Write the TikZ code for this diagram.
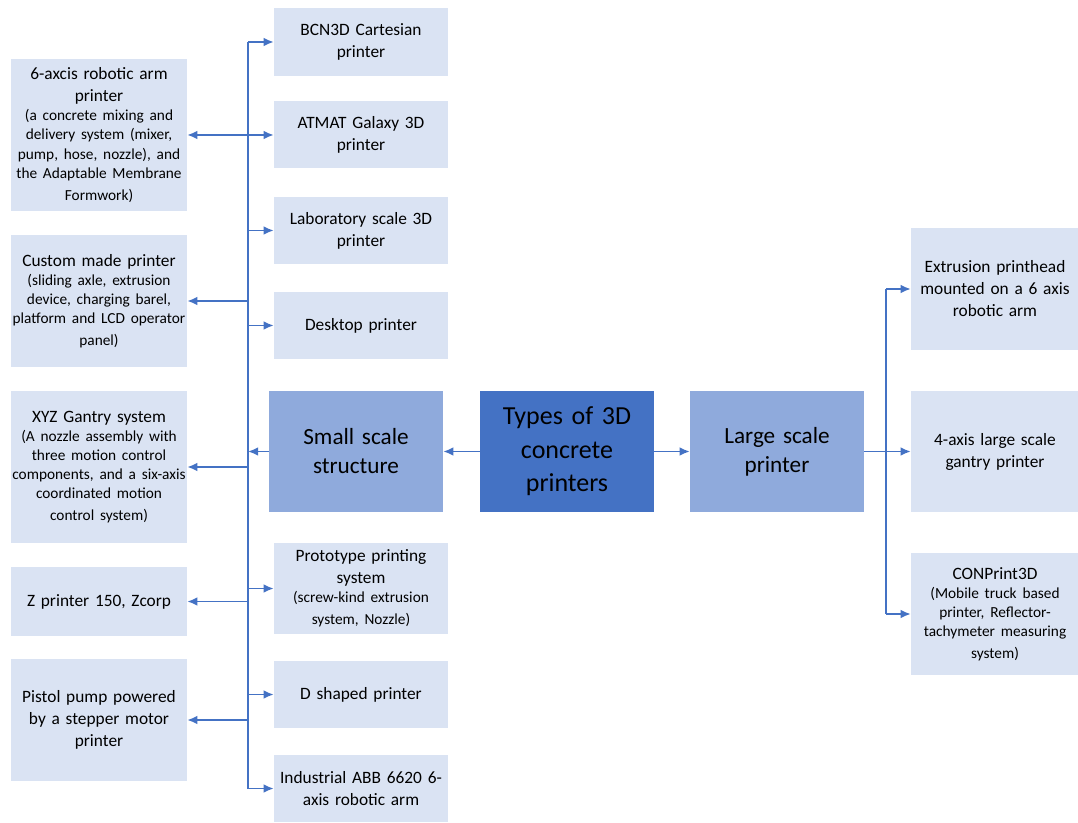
\documentclass[tikz,border=0pt]{standalone}
\usepackage{fontspec}
\setmainfont{Carlito}
\usetikzlibrary{arrows.meta, positioning}

\definecolor{leafblue}{HTML}{DAE3F3}
\definecolor{midblue}{HTML}{8FAADC}
\definecolor{coreblue}{HTML}{4472C4}
\newcommand{\leafsize}{\fontsize{13}{16.5}\selectfont}
\newcommand{\subsize}{\fontsize{11.5}{14.3}\selectfont}

\begin{document}
\begin{tikzpicture}[x=0.75pt, y=-0.75pt, >={Latex[length=7.5pt,width=6.5pt]},
    leaf/.style={fill=leafblue, minimum width=132pt, text width=150pt, align=center, inner xsep=-12pt, inner ysep=0pt, font=\leafsize},
    rleaf/.style={leaf, minimum width=124.5pt},
    mleaf/.style={leaf, minimum width=130.5pt},
    mid/.style={fill=midblue, minimum width=130.5pt, minimum height=90.75pt, text width=150pt, align=center, inner xsep=-12pt, inner ysep=0pt, font=\fontsize{17.4}{21.75}\selectfont},
    core/.style={mid, fill=coreblue, font=\fontsize{19.5}{25}\selectfont},
    link/.style={draw=coreblue, line width=1.3pt},
    arr/.style={link, ->}]
    \useasboundingbox (0,0) rectangle (1078,823);

    % centre and the two groups
    \node [core] (types) at (567,451.5) {Types of 3D\\ concrete\\ printers};
    \node [mid] (small) at (356,451.5) {Small scale\\ structure};
    \node [mid] (large) at (777,451.5) {Large scale\\ printer};

    % left column
    \node [leaf, minimum height=114pt] (l1) at (99,135) {6-axcis robotic arm\\ printer\par\subsize (a concrete mixing and\\ delivery system (mixer,\\ pump, hose, nozzle), and\\ the Adaptable Membrane\\ Formwork)};
    \node [leaf, minimum height=99pt] (l2) at (99,301) {Custom made printer\par\subsize (sliding axle, extrusion\\ device, charging barel,\\ platform and LCD operator\\ panel)};
    \node [leaf, minimum height=114pt] (l3) at (99,467) {XYZ Gantry system\par\subsize (A nozzle assembly with\\ three motion control\\ components, and a six-axis\\ coordinated motion\\ control system)};
    \node [leaf, minimum height=51.75pt] (l4) at (99,601.5) {Z printer 150, Zcorp};
    \node [leaf, minimum height=91.5pt] (l5) at (99,720) {Pistol pump powered\\ by a stepper motor\\ printer};

    % middle column
    \node [mleaf, minimum height=51pt] (m1) at (361,42) {BCN3D Cartesian\\ printer};
    \node [mleaf, minimum height=50.25pt] (m2) at (361,135) {ATMAT Galaxy 3D\\ printer};
    \node [mleaf, minimum height=50.25pt] (m3) at (361,230.5) {Laboratory scale 3D\\ printer};
    \node [mleaf, minimum height=50.25pt] (m4) at (361,325.5) {Desktop printer};
    \node [mleaf, minimum height=68.25pt] (m5) at (361,588.5) {Prototype printing\\ system\par\subsize (screw-kind extrusion\\ system, Nozzle)};
    \node [mleaf, minimum height=50.25pt] (m6) at (361,694.5) {D shaped printer};
    \node [mleaf, minimum height=50.25pt] (m7) at (361,788.5) {Industrial ABB 6620 6-\\ axis robotic arm};

    % right column
    \node [rleaf, minimum height=91.5pt] (r1) at (995,289) {Extrusion printhead\\ mounted on a 6 axis\\ robotic arm};
    \node [rleaf, minimum height=90.75pt] (r2) at (995,451.5) {4-axis large scale\\ gantry printer};
    \node [rleaf, minimum height=91.5pt] (r3) at (995,614) {CONPrint3D\par\subsize (Mobile truck based\\ printer, Reflector-\\ tachymeter measuring\\ system)};

    \coordinate (ltrunk) at (248,0);
    \coordinate (rtrunk) at (886,0);

    % connectors
    \draw[arr] (types) -- (small);
    \draw[arr] (types) -- (large);
    \draw[arr] (small.west) -- (ltrunk |- small.west);
    \draw[link] (ltrunk |- m1.west) -- (ltrunk |- m7.west);
    \foreach \m in {m1,m2,m3,m4,m5,m6,m7}
        \draw[arr] (ltrunk |- \m.west) -- (\m.west);
    \foreach \l in {l1,l2,l3,l4,l5}
        \draw[arr] (ltrunk |- \l.east) -- (\l.east);
    \draw[link] (large.east) -- (rtrunk |- large.east);
    \draw[link] (rtrunk |- r1.west) -- (rtrunk |- r3.west);
    \foreach \r in {r1,r2,r3}
        \draw[arr] (rtrunk |- \r.west) -- (\r.west);
\end{tikzpicture}
\end{document}
